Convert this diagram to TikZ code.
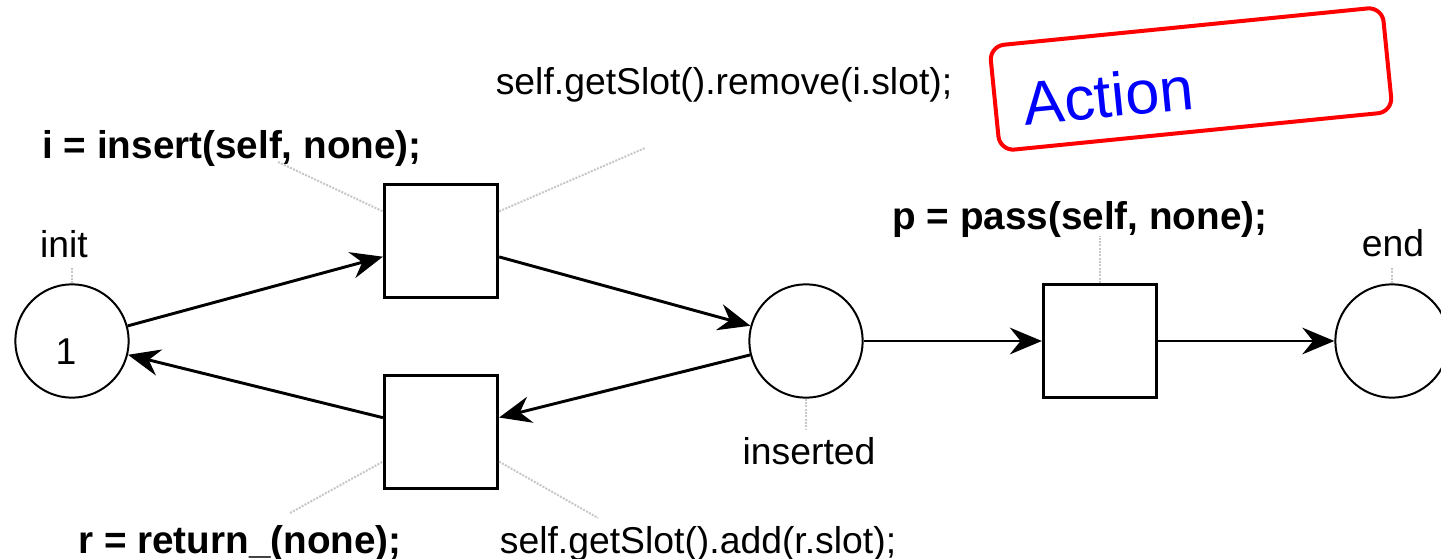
\documentclass[tikz,border=0pt]{standalone}
\usepackage{fontspec}
\setmainfont{Liberation Sans}
\usetikzlibrary{arrows.meta}
\tikzset{
  place/.style={circle, draw, line width=1.5pt, minimum size=85pt, inner sep=0pt},
  trans/.style={rectangle, draw, line width=2.2pt, minimum size=85pt, inner sep=0pt},
  arc/.style={-{Stealth[length=24pt,width=20pt,inset=8pt]}, line width=2.2pt},
  lead/.style={draw=black!22, line width=1.5pt, densely dotted},
  lbl/.style={font=\fontsize{28}{30}\selectfont, inner sep=0pt, anchor=base},
  blbl/.style={font=\fontsize{29}{31}\selectfont\bfseries, inner sep=0pt, anchor=base},
  actbox/.style={draw=red, line width=3pt, rounded corners=11pt, rotate=5.7,
    minimum width=296pt, minimum height=79pt, inner sep=0pt,
    text=blue, font=\fontsize{46}{48}\selectfont,
    text width=254pt, align=left, text height=45pt, text depth=0pt}
}
\begin{document}
\begin{tikzpicture}[x=0.75pt, y=-0.75pt]
\useasboundingbox (0,0) rectangle (1441,559);

% places and transitions
\node[place] (init) at (72,341) {};
\node[lbl, anchor=center] (tok) at (66,352) {1};
\node[trans] (t1) at (441,241) {};
\node[trans] (t2) at (441,432) {};
\node[place] (ins) at (806,341) {};
\node[trans] (t3) at (1100,341) {};
\node[place] (end) at (1392,341) {};

% place names
\node[lbl] (linit) at (64,258) {init};
\node[lbl] (lins) at (809,464) {inserted};
\node[lbl] (lend) at (1393,257) {end};

% transition inscriptions
\node[blbl] (lt1) at (232,159) {i = insert(self, none);};
\node[lbl] (at1) at (724,95) {self.getSlot().remove(i.slot);};
\node[blbl] (lt2) at (240,553) {r = return\_(none);};
\node[lbl] (at2) at (698,553) {self.getSlot().add(r.slot);};
\node[blbl] (lt3) at (1080,230) {p = pass(self, none);};

% leader lines
\coordinate (c1) at (278,162);
\coordinate (c2) at (645,148);
\coordinate (c3) at (290,513);
\coordinate (c4) at (598,518);
\draw[lead] (c1) -- (t1.153);
\draw[lead] (t1.27) -- (c2);
\draw[lead] (c3) -- (t2.207);
\draw[lead] (t2.333) -- (c4);
\draw[lead] (init.north) -- (init.north |- 0,268);
\draw[lead] (ins.south) -- (ins.south |- 0,430);
\draw[lead] (t3.north) -- (t3.north |- 0,236);
\draw[lead] (end.north) -- (end.north |- 0,268);

% arcs
\draw[arc] (init) -- (t1);
\draw[arc] (t1) -- (ins);
\draw[arc] (ins) -- (t2);
\draw[arc] (t2) -- (init);
\draw[arc] (ins) -- (t3);
\draw[arc] (t3) -- (end);

% callout
\node[actbox] (act) at (1191,79) {Action};
\end{tikzpicture}
\end{document}
